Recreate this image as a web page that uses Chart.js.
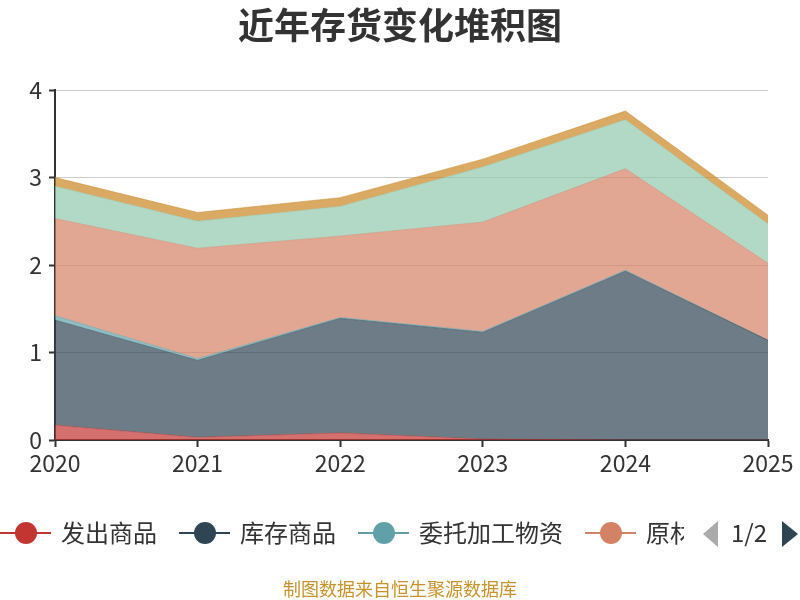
<!DOCTYPE html>
<html>
<head>
<meta charset="utf-8">
<script src="https://cdn.jsdelivr.net/npm/chart.js@4/dist/chart.umd.min.js"></script>
<style>
    html, body { margin: 0; padding: 0; background: #fff; }
    #wrap { width: 800px; height: 600px; position: relative; }
</style>
</head>
<body>
<div id="wrap"><canvas id="chart" width="800" height="600"></canvas></div>
<script>
// 数据（从图中读取的估计值，单位：亿元）
const years = ['2020', '2021', '2022', '2023', '2024', '2025'];
const seriesNames = ['发出商品', '库存商品', '委托加工物资', '原材料', '在产品', '周转材料'];
const faChuShangPin = [0.17, 0.03, 0.08, 0.01, 0.00, 0.00];
const kuCunShangPin = [1.20, 0.88, 1.31, 1.22, 1.93, 1.14];
const weiTuoJiaGong = [0.05, 0.02, 0.01, 0.01, 0.01, 0.00];
const yuanCaiLiao = [1.11, 1.26, 0.93, 1.25, 1.16, 0.88];
const zaiChanPin = [0.37, 0.31, 0.34, 0.63, 0.56, 0.45];
const zhouZhuanCaiLiao = [0.10, 0.10, 0.10, 0.09, 0.10, 0.10];
const yTicks = [0, 1, 2, 3, 4];

const seriesValues = [faChuShangPin, kuCunShangPin, weiTuoJiaGong, yuanCaiLiao, zaiChanPin, zhouZhuanCaiLiao];
const colors = ['#c23531', '#2f4554', '#61a0a8', '#d48265', '#91c7ae', '#ca8622'];

function rgba(hex, a) {
    const n = parseInt(hex.slice(1), 16);
    return 'rgba(' + (n >> 16) + ',' + ((n >> 8) & 255) + ',' + (n & 255) + ',' + a + ')';
}

const FONT = '"Noto Sans CJK SC", "Noto Sans", sans-serif';

// 标题、图例（分页样式）、纵轴标题、底部来源文字
const extras = {
    id: 'extras',
    afterDraw(chart) {
        const ctx = chart.ctx;
        ctx.save();

        // 标题，居中于整个画布
        ctx.fillStyle = '#333';
        ctx.font = 'bold 36px ' + FONT;
        ctx.textAlign = 'center';
        ctx.textBaseline = 'middle';
        ctx.fillText('近年存货变化堆积图', 400, 25);

        // 纵轴标题（被左边缘裁掉一部分）
        ctx.save();
        ctx.translate(-8, 115);
        ctx.rotate(-Math.PI / 2);
        ctx.fillStyle = '#ff0000';
        ctx.font = '16px ' + FONT;
        ctx.textAlign = 'center';
        ctx.textBaseline = 'middle';
        ctx.fillText('单位：亿元', 0, 0);
        ctx.restore();

        // 图例：第一页显示 4 项
        ctx.save();
        ctx.beginPath();
        ctx.rect(0, 505, 684, 60);
        ctx.clip();
        ctx.font = '24px ' + FONT;
        ctx.textBaseline = 'middle';
        let x = 0;
        const ly = 533;
        for (let i = 0; i < 4; i++) {
            const c = colors[i];
            ctx.strokeStyle = c;
            ctx.lineWidth = 2;
            ctx.beginPath();
            ctx.moveTo(x, ly);
            ctx.lineTo(x + 51, ly);
            ctx.stroke();
            ctx.fillStyle = c;
            ctx.beginPath();
            ctx.arc(x + 26, ly, 11, 0, Math.PI * 2);
            ctx.fill();
            ctx.fillStyle = '#333';
            ctx.textAlign = 'left';
            ctx.fillText(seriesNames[i], x + 61, ly);
            x += 61 + ctx.measureText(seriesNames[i]).width + 22;
        }
        ctx.restore();

        // 分页器
        ctx.fillStyle = '#aaaaaa';
        ctx.beginPath();
        ctx.moveTo(718, 521);
        ctx.lineTo(718, 547);
        ctx.lineTo(703, 534);
        ctx.closePath();
        ctx.fill();
        ctx.fillStyle = '#333';
        ctx.font = '24px ' + FONT;
        ctx.textAlign = 'left';
        ctx.textBaseline = 'middle';
        ctx.fillText('1/2', 731, 533);
        ctx.fillStyle = '#2f4554';
        ctx.beginPath();
        ctx.moveTo(782, 521);
        ctx.lineTo(782, 547);
        ctx.lineTo(798, 534);
        ctx.closePath();
        ctx.fill();

        // 来源
        ctx.fillStyle = '#c8922a';
        ctx.font = '18px ' + FONT;
        ctx.textAlign = 'center';
        ctx.fillText('制图数据来自恒生聚源数据库', 400, 589);

        ctx.restore();
    }
};

new Chart(document.getElementById('chart').getContext('2d'), {
    type: 'line',
    data: {
        labels: years,
        datasets: seriesNames.map((name, i) => ({
            label: name,
            data: seriesValues[i],
            borderColor: rgba(colors[i], 0.5),
            backgroundColor: rgba(colors[i], 0.7),
            borderWidth: 1,
            fill: i === 0 ? 'origin' : '-1',
            pointRadius: 0,
            tension: 0
        }))
    },
    options: {
        responsive: false,
        animation: false,
        devicePixelRatio: 1,
        layout: { padding: { left: 0, right: 32, top: 90, bottom: 0 } },
        scales: {
            x: {
                offset: false,
                grid: { drawOnChartArea: false, drawTicks: true, tickLength: 7, tickColor: '#333', tickWidth: 2 },
                border: { color: '#333', width: 2 },
                ticks: { color: '#333', font: { size: 23, family: FONT }, padding: 2, maxRotation: 0, autoSkip: false },
                afterFit: s => { s.height = 160; }
            },
            y: {
                stacked: true,
                min: 0,
                max: 4,
                afterBuildTicks: s => { s.ticks = yTicks.map(v => ({ value: v })); },
                grid: { color: '#cccccc', lineWidth: 1, tickLength: 6, tickColor: '#333', tickWidth: 2 },
                border: { color: '#333', width: 2 },
                ticks: { color: '#333', font: { size: 23, family: FONT }, padding: 7 },
                afterFit: s => { s.width = 55; }
            }
        },
        plugins: {
            legend: { display: false },
            tooltip: { enabled: false },
            title: { display: false }
        }
    },
    plugins: [extras]
});
</script>
</body>
</html>
